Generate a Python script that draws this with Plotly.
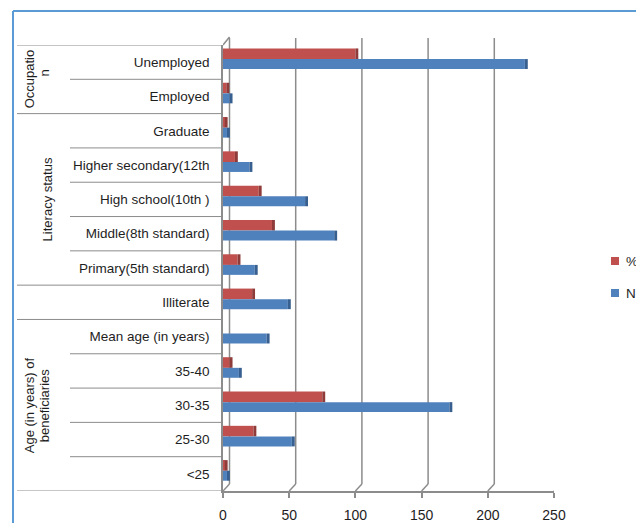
import plotly.graph_objects as go

# ---------------- data ----------------
categories = ["Unemployed", "Employed", "Graduate", "Higher secondary(12th",
              "High school(10th )", "Middle(8th standard)", "Primary(5th standard)",
              "Illiterate", "Mean age (in years)", "35-40", "30-35", "25-30", "<25"]
n_values = [228, 5, 3, 20, 62, 84, 24, 49, 33, 12, 171, 52, 3]
pct_values = [100, 2.5, 1.3, 9, 27, 37, 11, 22, None, 5, 75, 23, 1.3]
series_names = ["%", "N"]
group_labels = [["Occupatio", "n"], ["Literacy status"], [], ["Age (in years) of", "beneficiaries"]]
group_spans = [(0, 2), (2, 7), (7, 8), (8, 13)]
x_ticks = [0, 50, 100, 150, 200, 250]

# ---------------- style ----------------
RED, RED_D = "#C0504D", "#8E3B39"
BLUE, BLUE_D = "#4F81BD", "#375F8F"
GRID = "#8C8C8C"
SEP = "#8C8C8C"
TXT = "#1E1E1E"
FONT = "Liberation Sans"
W, H = 636, 523
L, R, T, B = 223, 82, 45, 32
PW, PH = W - L - R, H - T - B
DX, DY = 6.5, 7  # 3D depth offset in pixels


def pxx(px):
    return (px - L) / PW


def pxy(py):
    return (H - B - py) / PH


fig = go.Figure()

cap = 2.2
for vals, name, col, dcol, off, wid in [
    (pct_values, series_names[0], RED, RED_D, -0.40, 0.31),
    (n_values, series_names[1], BLUE, BLUE_D, -0.09, 0.29),
]:
    fig.add_trace(go.Bar(y=categories, x=vals, orientation="h", name=name,
                         marker=dict(color=col, line=dict(width=0)),
                         offset=off, width=wid, showlegend=False))
    fig.add_trace(go.Bar(y=categories, x=[cap if v is not None else None for v in vals],
                         base=vals, orientation="h", name=name,
                         marker=dict(color=dcol, line=dict(width=0)),
                         offset=off, width=wid, showlegend=False, hoverinfo="skip"))

shapes = []
# outer blue frame
shapes.append(dict(type="line", xref="paper", yref="paper", x0=pxx(13), x1=pxx(700),
                   y0=pxy(11), y1=pxy(11), line=dict(color="#5B9BD5", width=2)))
shapes.append(dict(type="line", xref="paper", yref="paper", x0=pxx(13), x1=pxx(13),
                   y0=pxy(11), y1=pxy(600), line=dict(color="#5B9BD5", width=2)))

# category separators (hierarchical axis)
full_bounds = set()
for (a, b) in group_spans:
    full_bounds.add(a)
    full_bounds.add(b)
for i in range(len(categories) + 1):
    x_start = 17 if i in full_bounds else 70
    shapes.append(dict(type="line", xref="paper", yref="y", x0=pxx(x_start), x1=0,
                       y0=i - 0.5, y1=i - 0.5, line=dict(color=SEP, width=1)))

# 3D gridlines (back wall) with slanted floor connectors
for v in x_ticks:
    shapes.append(dict(type="line", xref="x", xsizemode="pixel", xanchor=v,
                       yref="paper", ysizemode="pixel", yanchor=0,
                       x0=DX, x1=DX, y0=DY, y1=PH + DY, layer="below",
                       line=dict(color=GRID, width=1.5)))
    shapes.append(dict(type="line", xref="x", xsizemode="pixel", xanchor=v,
                       yref="paper", ysizemode="pixel", yanchor=0,
                       x0=DX, x1=0, y0=DY, y1=0, layer="below",
                       line=dict(color=GRID, width=1.5)))
# top-left slant of the side wall
shapes.append(dict(type="line", xref="x", xsizemode="pixel", xanchor=0,
                   yref="paper", ysizemode="pixel", yanchor=1,
                   x0=0, x1=DX, y0=0, y1=DY + 1, line=dict(color=GRID, width=1.5)))

# legend squares
for name, col, cy in [(series_names[0], RED, 261), (series_names[1], BLUE, 293)]:
    shapes.append(dict(type="rect", xref="paper", yref="paper", x0=pxx(611), x1=pxx(619),
                       y0=pxy(cy - 4), y1=pxy(cy + 4), line=dict(width=0), fillcolor=col))

annotations = []
for name, cy in [(series_names[0], 261), (series_names[1], 293)]:
    annotations.append(dict(text=name, xref="paper", yref="paper", x=pxx(624), y=pxy(cy),
                            xanchor="left", yanchor="middle", showarrow=False,
                            font=dict(family=FONT, size=13.5, color=TXT)))

# group labels (rotated)
for lines, (a, b) in zip(group_labels, group_spans):
    yc = (a + b - 1) / 2
    if len(lines) == 1:
        xs = [47]
    elif len(lines) == 2:
        xs = [29, 44]
    else:
        xs = []
    for txt, xp in zip(lines, xs):
        yy = yc
        if txt == "n":
            yy = yc - 0.2
        annotations.append(dict(text=txt, xref="paper", yref="y", x=pxx(xp), y=yy,
                                xanchor="center", yanchor="middle", textangle=-90,
                                showarrow=False, font=dict(family=FONT, size=13, color=TXT)))

fig.update_layout(
    width=W, height=H, autosize=False,
    margin=dict(l=L, r=R, t=T, b=B, pad=0, autoexpand=False),
    paper_bgcolor="white", plot_bgcolor="white",
    barmode="overlay", showlegend=False,
    shapes=shapes, annotations=annotations,
    font=dict(family=FONT, color=TXT),
    xaxis=dict(range=[0, 250], tickvals=x_ticks, showgrid=False, zeroline=False,
               automargin=False,
               showline=True, linecolor=GRID, linewidth=1.5,
               ticks="outside", ticklen=5, tickcolor=GRID, tickwidth=1.5,
               ticklabelstandoff=5,
               tickfont=dict(family=FONT, size=14, color=TXT)),
    yaxis=dict(type="category", categoryorder="array", categoryarray=categories,
               range=[len(categories) - 0.5, -0.5], showgrid=False, zeroline=False,
               automargin=False,
               showline=True, linecolor=GRID, linewidth=1.5, ticks="",
               ticklabelstandoff=9,
               tickfont=dict(family=FONT, size=13.5, color=TXT)),
)

fig.write_html("out.html")
